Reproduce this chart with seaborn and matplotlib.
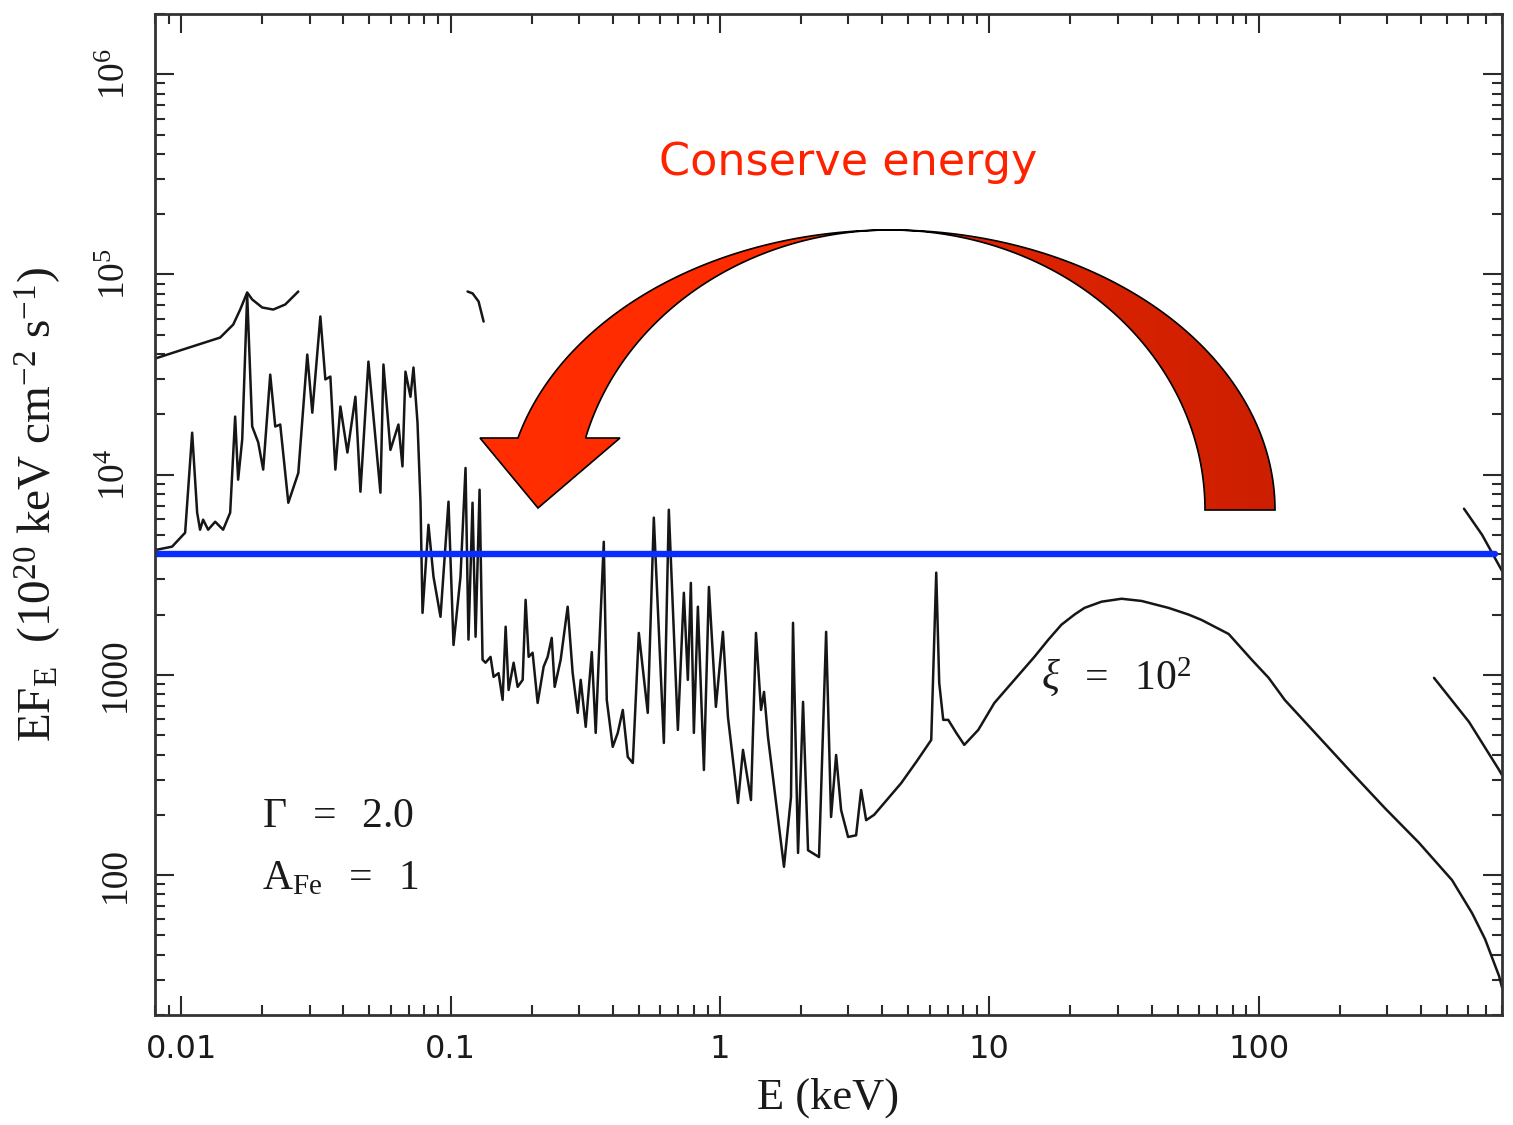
import numpy as np
import matplotlib
matplotlib.use("Agg")
import matplotlib.pyplot as plt
from matplotlib.patches import Polygon
from matplotlib.colors import LinearSegmentedColormap
from matplotlib.ticker import LogLocator, NullFormatter
import seaborn as sns

# Reflection spectrum for xi = 10^2 (E in keV, EF_E in 1e20 keV cm^-2 s^-1)
energy_kev = [
    0.0080, 0.00926, 0.01035, 0.01099, 0.01147, 0.01176, 0.01207, 0.01260, 0.01338, 0.01432,
    0.01521, 0.01587, 0.01628, 0.01686, 0.01759, 0.01836, 0.01933, 0.02017, 0.02142, 0.02236,
    0.02333, 0.02500, 0.02723, 0.02940, 0.03069, 0.03288, 0.03431, 0.03581, 0.03738, 0.03902,
    0.04143, 0.04436, 0.04631, 0.04958, 0.05494, 0.05637, 0.05984, 0.06408, 0.06632, 0.06804,
    0.07102, 0.07287, 0.07542, 0.07739, 0.07873, 0.08282, 0.08647, 0.09180, 0.09830, 0.1026,
    0.1089, 0.1137, 0.1166, 0.1207, 0.1239, 0.1282, 0.1315, 0.1349, 0.1408, 0.1445,
    0.1508, 0.1561, 0.1602, 0.1643, 0.1715, 0.1775, 0.1853, 0.1900, 0.1950, 0.2017,
    0.2106, 0.2217, 0.2294, 0.2375, 0.2436, 0.2564, 0.2722, 0.2841, 0.2966, 0.3043,
    0.3176, 0.3345, 0.3459, 0.3549, 0.3706, 0.3802, 0.4001, 0.4177, 0.4360, 0.4550,
    0.4750, 0.5000, 0.5398, 0.5684, 0.6193, 0.6462, 0.6981, 0.7348, 0.7603, 0.7801,
    0.8004, 0.8283, 0.8721, 0.9103, 0.9663, 1.026, 1.071, 1.167, 1.218, 1.304,
    1.361, 1.421, 1.458, 1.508, 1.729, 1.836, 1.868, 1.950, 2.035, 2.124,
    2.333, 2.479, 2.586, 2.700, 2.818, 2.991, 3.203, 3.344, 3.490, 3.737,
    4.709, 5.353, 6.087, 6.353, 6.518, 6.745, 7.040, 7.54, 8.074, 9.101,
    10.44, 12.39, 14.70, 16.57, 18.52, 20.70, 22.55, 26.09, 30.96, 36.74,
    46.3, 54.94, 61.4, 77.36, 94.2, 108.9, 124.9, 167.1, 221.7, 294.0,
    393.4, 521.8, 619.3, 692.1, 780.2, 800.0,
]
ef_e = [
    4200, 4370, 5130, 16200, 6460, 5310, 5960, 5310, 5820, 5310,
    6460, 19500, 9440, 15000, 79400, 17400, 14500, 10600, 31600, 17400,
    17800, 7240, 10200, 39800, 20400, 61700, 29900, 30900, 10600, 21900,
    12900, 24500, 8220, 36700, 8130, 35500, 13300, 17800, 11000, 32700,
    24500, 34300, 18200, 7240, 2040, 5620, 3090, 1950, 7330, 1410,
    3090, 10800, 1500, 7240, 1550, 8410, 1190, 1150, 1230, 977,
    1020, 750, 1740, 841, 1150, 871, 944, 2370, 1230, 1290,
    724, 1100, 1230, 1530, 871, 1190, 2190, 1020, 646, 944,
    550, 1300, 513, 1190, 4620, 750, 437, 513, 668, 389,
    363, 1620, 646, 6100, 457, 6680, 531, 2570, 944, 2880,
    513, 2190, 335, 2750, 692, 1640, 617, 229, 422, 237,
    1620, 668, 822, 490, 110, 245, 1820, 129, 733, 133,
    123, 1640, 195, 398, 211, 155, 158, 266, 188, 200,
    288, 367, 473, 3240, 912, 596, 596, 513, 447, 531,
    724, 944, 1230, 1500, 1780, 2000, 2160, 2320, 2400, 2340,
    2160, 2000, 1880, 1600, 1190, 966, 750, 490, 324, 216,
    145, 94.4, 64.6, 47.9, 31.3, 27.5,
]

# Visible pieces of the neighbouring (higher-ionisation) model curves
upper_energy = [0.0080, 0.01017, 0.01396, 0.01561, 0.01657, 0.01759, 0.01836, 0.0200,
                0.02198, 0.02435, 0.02608, 0.02723]
upper_flux = [38000, 42200, 48400, 56200, 66800, 81300, 75000, 68400,
              66800, 70800, 77600, 82200]
edge_energy = [0.1157, 0.1208, 0.1271, 0.1327]
edge_flux = [82200, 80400, 73300, 58200]
tail_a_energy = [578.1, 674.5, 800.0]
tail_a_flux = [6760, 5010, 3310]
tail_b_energy = [447.4, 603.5, 780.2, 800.0]
tail_b_flux = [966, 582, 335, 316]

# Reference level
level_energy = [0.008, 754]
level_flux = [4000, 4000]

x_ticks = [0.01, 0.1, 1, 10, 100]
x_tick_labels = ["0.01", "0.1", "1", "10", "100"]
y_ticks = [1e2, 1e3, 1e4, 1e5, 1e6]
y_tick_labels = ["100", "1000", r"$10^4$", r"$10^5$", r"$10^6$"]

sns.set_theme(style="ticks")
plt.rcParams["font.family"] = ["Liberation Serif", "DejaVu Serif"]
plt.rcParams["mathtext.fontset"] = "custom"
plt.rcParams["mathtext.rm"] = "Liberation Serif"
plt.rcParams["mathtext.it"] = "Liberation Serif:italic"
plt.rcParams["mathtext.bf"] = "Liberation Serif:bold"

W, H = 1513, 1125
fig = plt.figure(figsize=(W / 100, H / 100), dpi=100)
fig.patch.set_facecolor("white")
ax = fig.add_axes([155 / W, 1 - 1015 / H, 1347 / W, 1001 / H])
ax.set_xscale("log")
ax.set_yscale("log")

line_kw = dict(color="#161616", lw=1.8, estimator=None, sort=False, ax=ax)
for xs, ys in [(upper_energy, upper_flux), (edge_energy, edge_flux),
               (tail_a_energy, tail_a_flux), (tail_b_energy, tail_b_flux),
               (energy_kev, ef_e)]:
    sns.lineplot(x=xs, y=ys, **line_kw)

sns.lineplot(x=level_energy, y=level_flux, color="#0a2dff", lw=4.6,
             estimator=None, sort=False, ax=ax)

ax.set_xlim(0.008, 800)
ax.set_ylim(20, 2e6)

ax.set_xticks(x_ticks, x_tick_labels, fontfamily="DejaVu Sans", fontsize=23)
ax.set_yticks(y_ticks, y_tick_labels, rotation=90, va="center", fontsize=27)
ax.xaxis.set_minor_locator(LogLocator(base=10, subs=np.arange(2, 10), numticks=100))
ax.yaxis.set_minor_locator(LogLocator(base=10, subs=np.arange(2, 10), numticks=100))
ax.xaxis.set_minor_formatter(NullFormatter())
ax.yaxis.set_minor_formatter(NullFormatter())
ax.tick_params(which="both", direction="in", top=True, right=True,
               color="#2a2a2a", width=1.5, labelcolor="#1a1a1a")
ax.tick_params(which="major", length=14)
ax.tick_params(which="minor", length=7)
ax.tick_params(axis="x", which="major", pad=14)
ax.tick_params(axis="y", which="major", pad=16)
for s in ax.spines.values():
    s.set_color("#333333")
    s.set_linewidth(2.0)

ax.set_xlabel("E (keV)", fontsize=32, color="#1a1a1a")
ax.xaxis.set_label_coords(0.5, -0.062)
ax.set_ylabel(r"$\mathrm{EF_E\ \ (10^{20}\ keV\ cm^{-2}\ s^{-1})}$", fontsize=34, color="#1a1a1a")
ax.yaxis.set_label_coords(-0.068, 0.51)

txt_kw = dict(fontsize=30, color="#1a1a1a", ha="left", va="center")
ax.text(0.020, 195, r"$\Gamma\ \ =\ \ 2.0$", **txt_kw)
ax.text(0.020, 96, r"$\mathrm{A_{Fe}}\ \ =\ \ 1$", **txt_kw)
ax.text(15.6, 966, r"$\xi\ \ =\ \ 10^2$", **txt_kw)

# Curved arrow drawn on a full-figure overlay in pixel units
over = fig.add_axes([0, 0, 1, 1])
over.set_xlim(0, W)
over.set_ylim(H, 0)
over.axis("off")
over.patch.set_alpha(0)

cx, cy, b = 890, 510, 280
a_out, a_in = 385, 315
th_end = np.pi - np.arcsin(72 / b)
th = np.linspace(0, th_end, 160)
outer = np.column_stack([cx + a_out * np.cos(th), cy - b * np.sin(th)])
inner = np.column_stack([cx + a_in * np.cos(th[::-1]), cy - b * np.sin(th[::-1])])
head = np.array([[480, 438], [538, 508], [620, 438]])
verts = np.vstack([outer, head, inner])
arrow = Polygon(verts, closed=True, fc="none", ec="black", lw=1.2, zorder=3)
over.add_patch(arrow)
cmap = LinearSegmentedColormap.from_list(
    "arrow", [(0, "#ff2e00"), (0.45, "#ff2a00"), (0.62, "#e02400"), (1, "#cc1f00")])
grad = np.linspace(0, 1, 512)[None, :]
im = over.imshow(grad, extent=[475, 1280, 515, 225], cmap=cmap, aspect="auto",
                 interpolation="bilinear", zorder=2)
im.set_clip_path(arrow)
over.set_xlim(0, W)
over.set_ylim(H, 0)

over.text(848, 163, "Conserve energy", color="#ff2200", fontsize=32,
          fontfamily="DejaVu Sans", ha="center", va="center")

fig.savefig("out.png", dpi=100, facecolor="white")
